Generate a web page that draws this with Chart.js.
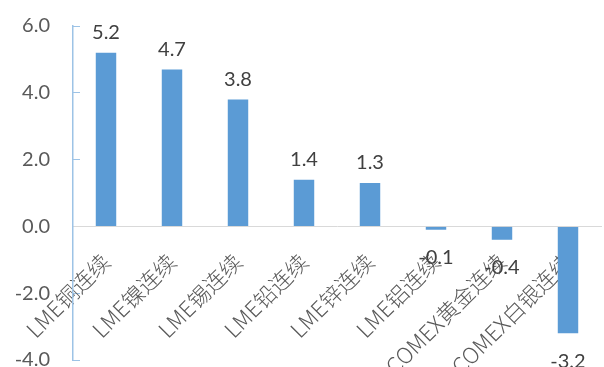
<!DOCTYPE html>
<html>
<head>
<meta charset="utf-8">
<script src="https://cdn.jsdelivr.net/npm/chart.js@4.4.0/dist/chart.umd.min.js"></script>
<style>
  html, body { margin: 0; padding: 0; background: #fff; }
  #wrap { width: 604px; height: 367px; }
</style>
</head>
<body>
<div id="wrap"><canvas id="myChart"></canvas></div>
<script>
const categories = ['LME铜连续', 'LME镍连续', 'LME锡连续', 'LME铅连续', 'LME锌连续', 'LME铝连续', 'COMEX黄金连续', 'COMEX白银连续'];
const values = [5.2, 4.7, 3.8, 1.4, 1.3, -0.1, -0.4, -3.2];
const yTicks = [-4, -2, 0, 2, 4, 6];

// value labels above (or below) each bar
const valueLabels = {
    id: 'valueLabels',
    afterDatasetsDraw(chart) {
        const ctx = chart.ctx;
        const meta = chart.getDatasetMeta(0);
        ctx.save();
        ctx.font = '20px Lato';
        ctx.fillStyle = '#404040';
        ctx.textAlign = 'center';
        ctx.textBaseline = 'middle';
        meta.data.forEach((bar, i) => {
            const v = values[i];
            const y = v >= 0 ? bar.y - 20 : bar.y + 28;
            ctx.fillText(v.toFixed(1), bar.x, y);
        });
        ctx.restore();
    }
};

function createGraph() {
    const ctx = document.getElementById('myChart');
    new Chart(ctx, {
        type: 'bar',
        data: {
            labels: categories,
            datasets: [{
                data: values,
                backgroundColor: '#5B9BD5',
                borderWidth: 0,
                categoryPercentage: 1,
                barPercentage: 0.31
            }]
        },
        options: {
            responsive: true,
            maintainAspectRatio: false,
            animation: false,
            layout: { padding: { top: 26, right: 3, bottom: 7, left: 0 } },
            plugins: {
                legend: { display: false },
                tooltip: { enabled: false }
            },
            scales: {
                x: {
                    position: { y: 0 },
                    z: 1,
                    grid: { display: false },
                    border: { color: '#D9D9D9', width: 1 },
                    afterFit: (s) => { s.paddingLeft = 0; s.paddingRight = 0; },
                    ticks: {
                        minRotation: 45,
                        maxRotation: 45,
                        autoSkip: false,
                        padding: 14,
                        color: '#595959',
                        font: { family: "'Liberation Sans Narrow', 'Noto Sans CJK SC'", size: 22, weight: 300 }
                    }
                },
                y: {
                    min: yTicks[0],
                    max: yTicks[yTicks.length - 1],
                    afterFit: (s) => { s.width = 73; s.paddingTop = 0; s.paddingBottom = 0; },
                    grid: {
                        drawOnChartArea: false,
                        tickLength: -7,
                        color: '#9DC3E6'
                    },
                    border: { color: '#9DC3E6', width: 1.5 },
                    ticks: {
                        stepSize: 2,
                        padding: 30,
                        color: '#595959',
                        font: { family: 'Lato', size: 20 },
                        callback: (v) => v.toFixed(1)
                    },
                    afterBuildTicks: (s) => { s.ticks = yTicks.map(v => ({ value: v })); }
                }
            }
        },
        plugins: [valueLabels]
    });
}

createGraph();
</script>
</body>
</html>
